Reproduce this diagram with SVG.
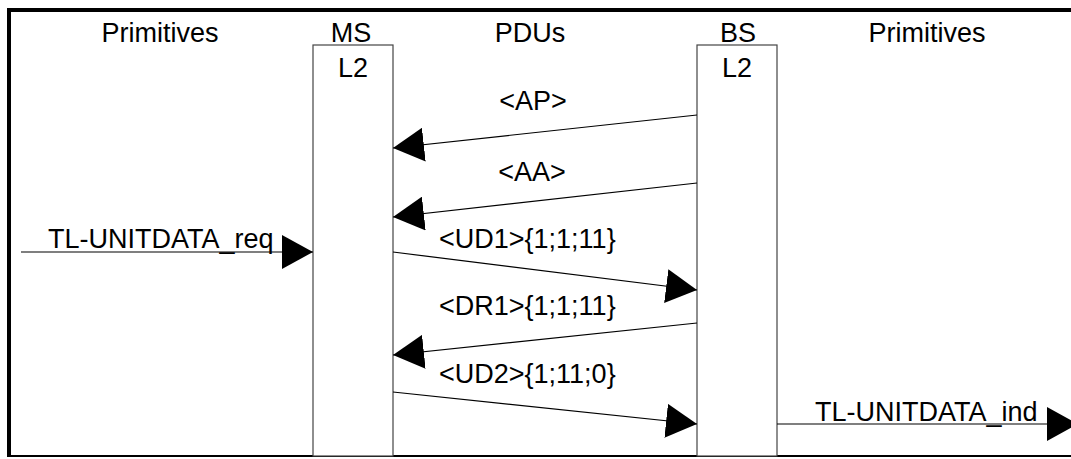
<svg xmlns="http://www.w3.org/2000/svg" width="1071" height="459" viewBox="0 0 1071 459">
<style>
text{font-family:"Liberation Sans",Arial,sans-serif;font-size:27px;fill:#000}
.c{text-anchor:middle}
.box{fill:#fff;stroke:#444;stroke-width:1.2}
.msg{stroke:#000;stroke-width:1.2;fill:none;marker-end:url(#ah)}
</style>
<defs>
<marker id="ah" markerUnits="userSpaceOnUse" markerWidth="32" markerHeight="34" refX="31" refY="17" orient="auto" viewBox="0 0 32 34">
<path d="M0,0 L31,17 L0,34 z" fill="#000"/>
</marker>
</defs>
<rect width="1071" height="459" fill="#fff"/>
<g id="frame">
<path d="M1071,10 H9 V456" fill="none" stroke="#000" stroke-width="4"/>
<line x1="7" y1="456" x2="1071" y2="456" stroke="#000" stroke-width="2"/>
</g>
<g id="headers">
<text class="c" x="160" y="42">Primitives</text>
<text class="c" x="530" y="42">PDUs</text>
<text class="c" x="927" y="42">Primitives</text>
</g>
<g id="ms">
<text class="c" x="351" y="42">MS</text>
<rect class="box" x="313" y="45" width="80" height="411"/>
<text class="c" x="353" y="77">L2</text>
</g>
<g id="bs">
<text class="c" x="738" y="42">BS</text>
<rect class="box" x="697" y="45" width="80" height="411"/>
<text class="c" x="737" y="77">L2</text>
</g>
<g id="connectors">
<line class="msg" x1="697" y1="115" x2="393" y2="148"/>
<text class="c" x="533" y="110">&lt;AP&gt;</text>
<line class="msg" x1="697" y1="183" x2="393" y2="217"/>
<text class="c" x="532" y="181">&lt;AA&gt;</text>
<line class="msg" x1="21" y1="252" x2="313" y2="252"/>
<text x="48" y="248">TL-UNITDATA_req</text>
<line class="msg" x1="393" y1="252" x2="697" y2="290"/>
<text x="439" y="248">&lt;UD1&gt;{1;1;11}</text>
<line class="msg" x1="697" y1="323" x2="393" y2="355"/>
<text x="439" y="315">&lt;DR1&gt;{1;1;11}</text>
<line class="msg" x1="393" y1="392" x2="697" y2="424"/>
<text x="439" y="383">&lt;UD2&gt;{1;11;0}</text>
<line class="msg" x1="777" y1="424" x2="1078" y2="424"/>
<text x="815" y="421">TL-UNITDATA_ind</text>
</g>
</svg>
